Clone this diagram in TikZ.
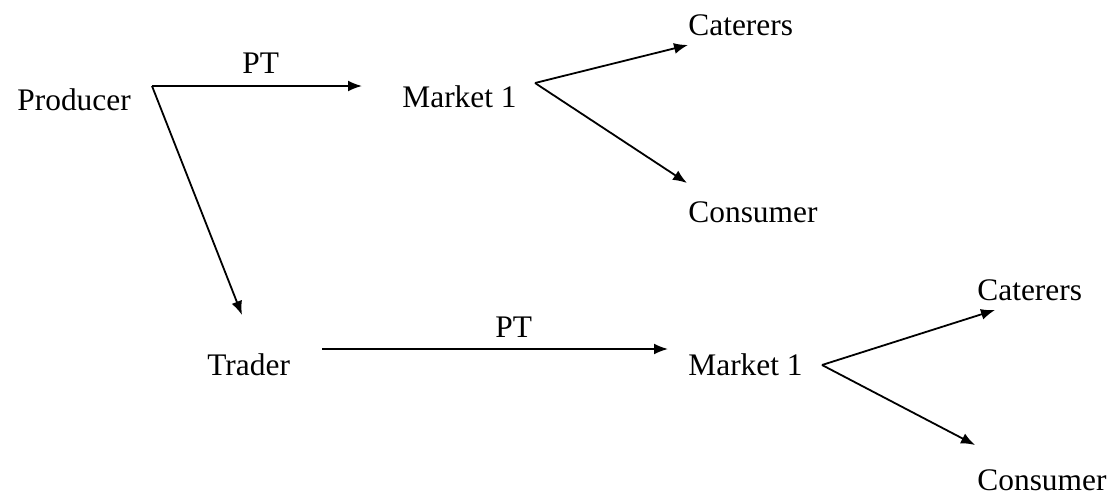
\documentclass[tikz,border=0pt]{standalone}
\usepackage{fontspec}
\setmainfont{Liberation Serif}
\usetikzlibrary{arrows.meta}
\tikzset{
	flow/.style={-{Latex[length=7pt,width=5.5pt]},line width=.9pt},
	lbl/.style={anchor=base west,inner sep=0pt,font=\fontsize{15.7}{18}\selectfont}
}
\begin{document}
\begin{tikzpicture}[x=.5pt,y=-.5pt]
				\useasboundingbox (0,0) rectangle (1114,498);
				% labels
				\node[lbl] (producer) at (17,110) {Producer};
				\node[lbl] (pt1) at (242,73) {PT};
				\node[lbl] (market1) at (402,107) {Market 1};
				\node[lbl] (caterers1) at (688,35) {Caterers};
				\node[lbl] (consumer1) at (688,222) {Consumer};
				\node[lbl] (trader) at (207,375) {Trader};
				\node[lbl] (pt2) at (495,337) {PT};
				\node[lbl] (market2) at (688,375) {Market 1};
				\node[lbl] (caterers2) at (977,300) {Caterers};
				\node[lbl] (consumer2) at (977,490) {Consumer};
				% connector ends
				\coordinate (prodout) at (152,86);
				\coordinate (mkt1in) at (362,86);
				\coordinate (tradin) at (242,315);
				\coordinate (fork1) at (535,83);
				\coordinate (cat1in) at (688,45);
				\coordinate (con1in) at (687,183);
				\coordinate (tradout) at (322,349);
				\coordinate (mkt2in) at (668,349);
				\coordinate (fork2) at (822,365);
				\coordinate (cat2in) at (995,310);
				\coordinate (con2in) at (975,445);
				% arrows
				\draw[flow] (prodout) -- (mkt1in);
				\draw[flow] (prodout) -- (tradin);
				\draw[flow] (fork1) -- (cat1in);
				\draw[flow] (fork1) -- (con1in);
				\draw[flow] (tradout) -- (mkt2in);
				\draw[flow] (fork2) -- (cat2in);
				\draw[flow] (fork2) -- (con2in);
			\end{tikzpicture}
\end{document}
